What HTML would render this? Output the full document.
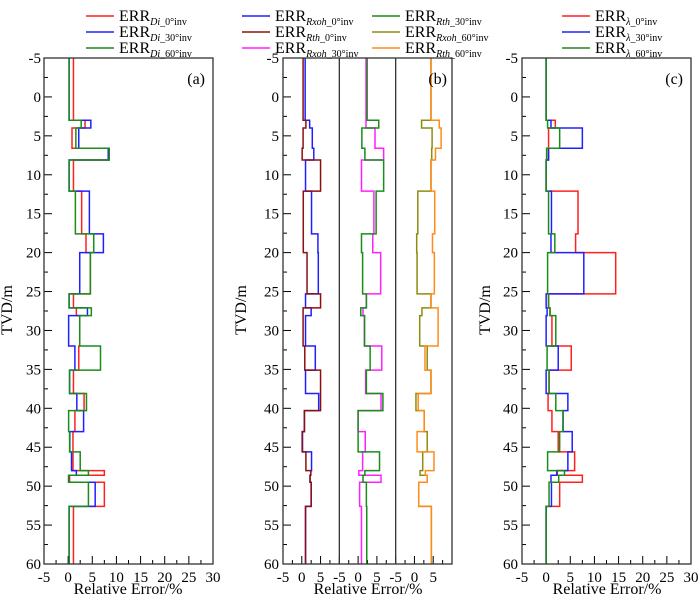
<!DOCTYPE html>
<html><head><meta charset="utf-8"><style>
html,body{margin:0;padding:0;background:#fff;}
svg{display:block;}
svg text{font-family:"Liberation Serif","Times New Roman",serif;}
</style></head><body>
<svg id="chart" width="700" height="600" viewBox="0 0 700 600" font-family="Liberation Serif, serif"></svg>
<script>
const depths = [-5,3,4,6.6,8.1,12.1,17.6,20,25.3,27.1,28.1,32,35.1,38.1,40.3,43,45.6,48,48.6,49.5,52.6,60];
const yTicks = [-5,0,5,10,15,20,25,30,35,40,45,50,55,60];
// panel a
const errDi0  = [1.1,3.5,0.8,8.5,1.1,2.8,3.7,4.6,1.1,1.7,2.4,2.2,1.1,3.3,1.4,1.0,1.0,7.5,0.3,7.5,1.1];
const errDi30 = [0.2,4.7,2.2,8.3,0.2,4.4,7.3,2.4,0.2,4.0,0.1,1.4,0.3,1.8,3.2,0.35,0.7,1.7,0.1,5.6,0.2];
const errDi60 = [0.2,2.7,1.6,8.5,0.2,1.5,5.3,4.6,0.2,4.8,2.4,6.7,0.3,3.8,0.1,0.3,2.5,4.2,0.1,4.2,0.2];
// panel b
const errRxoh0  = [0.9,2.1,2.8,3.2,1.0,2.6,4.3,4.4,1.0,2.5,1.0,3.6,1.0,4.5,0.7,0.2,2.6,2.4,2.2,2.5,1.0];
const errRth0   = [0.35,1.1,0.35,0.1,5.0,0.4,0.4,1.4,5.0,0.35,0.35,0.8,5.0,5.0,0.7,0.1,1.1,2.4,2.2,2.5,1.0];
const errRxoh30 = [2.1,2.1,4.5,6.8,0.9,4.2,3.9,6.0,2.2,1.3,1.7,6.3,2.0,6.1,0,1.9,1.2,0.2,6.1,0.4,0.9];
const errRth30  = [2.4,5.5,1.0,1.8,6.8,4.8,0.9,1.2,2.2,0.7,1.7,3.2,2.2,6.6,0,0,5.7,1.8,1.3,2.2,2.3];
const errRxoh60 = [4.4,1.9,4.7,4.6,4.4,0.9,0.6,0.7,4.4,2.0,1.4,3.4,4.4,0.4,2.6,3.4,2.2,1.5,3.4,1.15,4.5];
const errRth60  = [4.4,6.6,7.1,5.6,4.4,5.4,4.8,5.3,4.4,6.3,6.3,2.8,4.4,1.0,2.6,0.7,5.2,2.9,3.4,1.15,4.5];
// panel c
const errL0  = [0,1.9,0.5,0.5,0,6.6,6.1,14.4,0.5,0.8,1.2,5.2,0.6,0.4,1.2,2.5,5.9,2.3,7.5,2.8,0];
const errL30 = [0,1.0,7.5,0.5,0,1.1,1.0,7.8,0,0.2,0,2.5,0,4.5,3.5,5.4,4.5,2.2,1.0,1.1,0];
const errL60 = [0,0.3,2.8,0.1,0,0.5,1.8,0.3,0.5,0.8,2.0,0.2,0.6,2.0,3.5,2.8,0.3,3.8,2.6,0.6,0];
const xTicksWide = [-5,0,5,10,15,20,25,30];
const xTicksSub = [-5,0,5];

const svg = document.getElementById('chart');
const NS = 'http://www.w3.org/2000/svg';
const FF = 'Liberation Serif, Times New Roman, serif';
function mk(tag, attrs, parent){const e=document.createElementNS(NS,tag);for(const k in attrs)e.setAttribute(k,attrs[k]);if(tag==='text')e.setAttribute('font-family',FF);(parent||svg).appendChild(e);return e;}
const TOP=58, BOT=564;
const yS = d => TOP + (d+5)*(BOT-TOP)/65;

function yAxis(left, labelRight, titleX, name){
  const g = mk('g',{});
  
  
  for(let d=-5; d<=60; d+=2.5){
    const major = d%5===0;
    mk('line',{x1:left,x2:left+(major?8:4),y1:yS(d),y2:yS(d),stroke:'#000','stroke-width':1},g);
  }
  yTicks.forEach(t=>{
    const tx = mk('text',{x:labelRight,y:yS(t)+5,'text-anchor':'end','font-size':15},g);
    tx.textContent = t;
  });
  const tt = mk('text',{x:titleX,y:310,'text-anchor':'middle','font-size':16,transform:`rotate(-90 ${titleX} 310)`},g);
  
  
  tt.textContent='TVD/m';
}
function xAxis(xs, x0, x1, ticks, name, g){
  for(let v=x0; v<=x1+0.01; v+=2.5){
    const major = v%5===0;
    mk('line',{x1:xs(v),x2:xs(v),y1:BOT,y2:BOT-(major?8:4),stroke:'#000','stroke-width':1},g);
  }
  ticks.forEach(t=>{
    const tx=mk('text',{x:xs(t),y:582,'text-anchor':'middle','font-size':15},g);
    tx.textContent=t;
  });
}
function step(xs, vals, color, name){
  let d = `M${xs(vals[0])},${yS(depths[0])}`;
  for(let i=0;i<vals.length;i++){
    d += ` L${xs(vals[i])},${yS(depths[i])} L${xs(vals[i])},${yS(depths[i+1])}`;
  }
  const p = mk('path',{d,fill:'none',stroke:color,'stroke-width':1.5});
  
  
}
function frame(l,r,name){
  const f = mk('rect',{x:l,y:TOP,width:r-l,height:BOT-TOP,fill:'none',stroke:'#333','stroke-width':1.3});
  
  
}
function xTitle(cx,name){
  const t=mk('text',{x:cx,y:594,'text-anchor':'middle','font-size':16});
  
  
  t.textContent='Relative Error/%';
}
function panelLabel(x,txt,name){
  const t=mk('text',{x:x,y:84,'text-anchor':'end','font-size':16});
  
  
  t.textContent=txt;
}
function legend(x,y,color,sub,name){
  const g=mk('g',{});
  
  
  mk('line',{x1:x,x2:x+28,y1:y,y2:y,stroke:color,'stroke-width':1.5},g);
  const t=mk('text',{x:x+33,y:y+5,'font-size':16},g);
  t.innerHTML = `ERR<tspan font-size="10" font-style="italic" dy="4">${sub[0]}</tspan><tspan font-size="10">${sub[1]}</tspan>`;
}

// Panel a
const aL=44,aR=213; const xa = v => aL + (v+5)*(aR-aL)/35;
yAxis(aL,41,12,'panel-a');
{const g=mk('g',{});   xAxis(xa,-5,30,xTicksWide,'a',g);}
step(xa,errDi0,'#ff2020','err-di-0-line');
step(xa,errDi30,'#2020ff','err-di-30-line');
step(xa,errDi60,'#1a8c1a','err-di-60-line');
frame(aL,aR,'panel-a-frame');
panelLabel(205,'(a)','panel-a-label');
xTitle(128,'panel-a-x-axis-title');

// Panel b
const bL=283,bR=452; const subW=(bR-bL)/3;
yAxis(bL,279,246,'panel-b');
const bScales=[0,1,2].map(i=>{const l=bL+i*subW; return v=> l+(v+5)*subW/15;});
{const g=mk('g',{});  
 bScales.forEach(s=>xAxis(s,-5,7.5,xTicksSub,'b',g));}
step(bScales[0],errRxoh0,'#2020ff','err-rxoh-0-line');
step(bScales[0],errRth0,'#8b1010','err-rth-0-line');
step(bScales[1],errRxoh30,'#ff20ff','err-rxoh-30-line');
step(bScales[1],errRth30,'#1a8c1a','err-rth-30-line');
step(bScales[2],errRxoh60,'#8c8c10','err-rxoh-60-line');
step(bScales[2],errRth60,'#ff8c1a','err-rth-60-line');
frame(bL,bR,'panel-b-frame');
[1,2].forEach(i=>{const l=mk('line',{x1:bL+i*subW,x2:bL+i*subW,y1:TOP,y2:BOT,stroke:'#333','stroke-width':1.3});  });
panelLabel(447,'(b)','panel-b-label');
xTitle(368,'panel-b-x-axis-title');

// Panel c
const cL=522,cR=691; const xc = v => cL + (v+5)*(cR-cL)/35;
yAxis(cL,518,490,'panel-c');
{const g=mk('g',{});   xAxis(xc,-5,30,xTicksWide,'c',g);}
step(xc,errL0,'#ff2020','err-lambda-0-line');
step(xc,errL30,'#2020ff','err-lambda-30-line');
step(xc,errL60,'#1a8c1a','err-lambda-60-line');
frame(cL,cR,'panel-c-frame');
panelLabel(683,'(c)','panel-c-label');
xTitle(607,'panel-c-x-axis-title');

// Legends
legend(86,16,'#ff2020',['Di','_0°inv'],'legend-err-di-0');
legend(86,32,'#2020ff',['Di','_30°inv'],'legend-err-di-30');
legend(86,48,'#1a8c1a',['Di','_60°inv'],'legend-err-di-60');
legend(242,16,'#2020ff',['Rxoh','_0°inv'],'legend-err-rxoh-0');
legend(242,32,'#8b1010',['Rth','_0°inv'],'legend-err-rth-0');
legend(242,48,'#ff20ff',['Rxoh','_30°inv'],'legend-err-rxoh-30');
legend(372,16,'#1a8c1a',['Rth','_30°inv'],'legend-err-rth-30');
legend(372,32,'#8c8c10',['Rxoh','_60°inv'],'legend-err-rxoh-60');
legend(372,48,'#ff8c1a',['Rth','_60°inv'],'legend-err-rth-60');
legend(562,16,'#ff2020',['λ','_0°inv'],'legend-err-lambda-0');
legend(562,32,'#2020ff',['λ','_30°inv'],'legend-err-lambda-30');
legend(562,48,'#1a8c1a',['λ','_60°inv'],'legend-err-lambda-60');
</script>
</body></html>
